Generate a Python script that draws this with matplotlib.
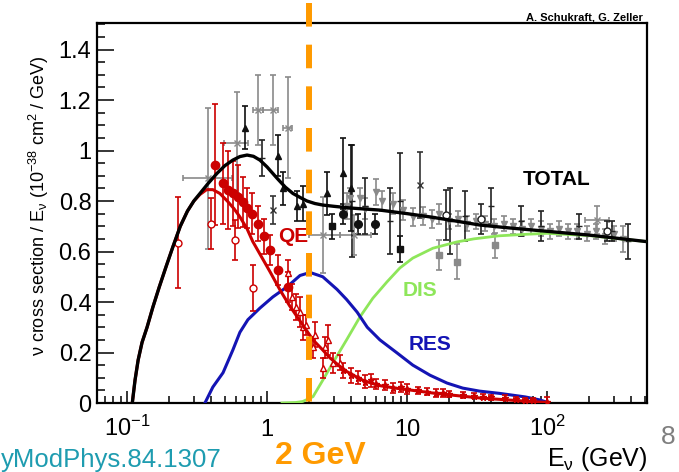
import numpy as np
import matplotlib
matplotlib.use("Agg")
import matplotlib.pyplot as plt
import matplotlib.transforms as mtransforms
from matplotlib.ticker import FixedLocator, FixedFormatter, LogLocator, MultipleLocator, NullFormatter

plt.rcParams['font.family'] = ['Liberation Sans', 'DejaVu Sans']
plt.rcParams['mathtext.default'] = 'regular'
plt.rcParams['lines.scale_dashes'] = False

# ---------------- model curves ----------------
total_E = [0.109, 0.114, 0.12, 0.128, 0.139, 0.153, 0.17, 0.19, 0.213, 0.24, 0.27, 0.30, 0.332, 0.38,
           0.44, 0.50, 0.57, 0.64, 0.72, 0.80, 0.89, 1.0, 1.18, 1.35, 1.53, 1.75, 1.93, 2.2, 2.5, 3.0,
           4.0, 6.4, 10, 14.6, 20, 33, 50, 100, 200, 500]
total_s = [0.0, 0.09, 0.17, 0.24, 0.30, 0.38, 0.46, 0.54, 0.62, 0.70, 0.76, 0.80, 0.83, 0.87,
           0.91, 0.94, 0.962, 0.976, 0.982, 0.977, 0.962, 0.935, 0.89, 0.855, 0.83, 0.812, 0.80, 0.79,
           0.784, 0.779, 0.772, 0.764, 0.75, 0.737, 0.725, 0.705, 0.695, 0.68, 0.665, 0.64]

qe_E = [0.109, 0.114, 0.12, 0.128, 0.139, 0.153, 0.17, 0.19, 0.213, 0.24, 0.27, 0.30, 0.332, 0.37,
        0.41, 0.46, 0.52, 0.58, 0.64, 0.72, 0.79, 0.9, 1.05, 1.24, 1.45, 1.72, 2.13, 2.5, 2.8, 3.2,
        3.7, 4.3, 4.85, 5.6, 6.5, 8.5, 11, 16, 22, 33, 50, 75, 100]
qe_s = [0.0, 0.09, 0.17, 0.24, 0.30, 0.38, 0.46, 0.54, 0.62, 0.70, 0.76, 0.80, 0.826, 0.845,
        0.845, 0.83, 0.80, 0.77, 0.737, 0.69, 0.64, 0.585, 0.52, 0.447, 0.385, 0.325, 0.25, 0.21,
        0.18, 0.152, 0.125, 0.105, 0.09, 0.078, 0.068, 0.058, 0.05, 0.038, 0.03, 0.02, 0.013, 0.006,
        0.002]

res_E = [0.36, 0.41, 0.485, 0.57, 0.64, 0.73, 0.89, 1.1, 1.39, 1.72, 2.03, 2.5, 3.16, 3.7, 4.4, 5.2,
         6.4, 8.5, 11, 14.6, 19.3, 25, 33, 46, 70, 89, 100]
res_s = [0.0, 0.063, 0.12, 0.21, 0.28, 0.33, 0.376, 0.42, 0.46, 0.505, 0.517, 0.50, 0.45, 0.41, 0.36,
         0.30, 0.25, 0.198, 0.15, 0.11, 0.079, 0.059, 0.047, 0.038, 0.024, 0.012, 0.003]

dis_E = [1.28, 1.6, 1.8, 2.13, 2.5, 2.96, 3.7, 4.6, 5.7, 7.2, 8.9, 11, 15.3, 22.7, 30, 45, 70, 100, 200,
         500]
dis_s = [0.0, 0.002, 0.006, 0.025, 0.09, 0.16, 0.25, 0.34, 0.415, 0.48, 0.535, 0.574, 0.613, 0.638,
         0.65, 0.662, 0.668, 0.672, 0.663, 0.64]

# ---------------- data points ----------------
mb_E = [0.425, 0.485, 0.53, 0.57, 0.62, 0.67, 0.72, 0.78, 0.86, 0.95, 1.05, 1.2, 1.41]
mb_s = [0.943, 0.87, 0.845, 0.83, 0.817, 0.797, 0.773, 0.75, 0.71, 0.66, 0.605, 0.527, 0.46]
mb_err = [0.24, 0.16, 0.155, 0.13, 0.125, 0.1, 0.08, 0.08, 0.07, 0.07, 0.06, 0.06, 0.06]

ro_E = [0.23, 0.40, 0.59, 0.79]
ro_s = [0.635, 0.71, 0.645, 0.455]
ro_err = [0.18, 0.1, 0.08, 0.09]

rt_E = [1.41, 1.5, 1.6, 1.72, 1.8, 1.9, 2.13, 2.2, 2.5, 2.6, 2.73, 2.96, 3.3]
rt_s = [0.515, 0.42, 0.38, 0.36, 0.30, 0.31, 0.22, 0.27, 0.14, 0.22, 0.25, 0.16, 0.16]
rt_err = [0.05, 0.05, 0.05, 0.06, 0.05, 0.04, 0.04, 0.05, 0.04, 0.04, 0.06, 0.04, 0.03]

rs_E = [3.5, 4.0, 4.5, 5.0, 5.5, 6.0, 7, 8, 9, 10, 12, 14, 16, 18, 20, 25, 30, 35, 40, 50, 60, 70, 80, 100]
rs_s = [0.13, 0.11, 0.10, 0.085, 0.09, 0.075, 0.07, 0.06, 0.065, 0.055, 0.05, 0.045, 0.04, 0.04, 0.035,
        0.03, 0.028, 0.025, 0.022, 0.02, 0.015, 0.012, 0.01, 0.005]
rs_err = [0.03, 0.03, 0.025, 0.025, 0.025, 0.02, 0.02, 0.02, 0.02, 0.02, 0.015, 0.015, 0.015, 0.015, 0.012,
          0.012, 0.01, 0.01, 0.01, 0.01, 0.008, 0.008, 0.008, 0.02]

bt_E = [0.70, 1.2, 1.3, 1.64, 1.8, 2.68, 3.5, 3.98]
bt_s = [1.09, 0.98, 0.85, 0.78, 0.79, 0.83, 0.91, 0.85]
bt_err = [0.085, 0.08, 0.065, 0.06, 0.07, 0.085, 0.14, 0.17]

bc_E = [3.5, 4.46, 5.9]
bc_s = [0.75, 0.71, 0.71]
bc_err = [0.04, 0.04, 0.04]

bo_E = [19, 34, 268]
bo_s = [0.745, 0.73, 0.68]
bo_err = [0.1, 0.06, 0.04]

bs_E = [2.9, 8.9]
bs_s = [0.70, 0.61]
bs_err = [0.05, 0.05]

gs_E = [17, 22.7, 42.5]
gs_s = [0.585, 0.56, 0.625]
gs_err = [0.06, 0.07, 0.05]

bx_E = [1.1, 12.4]
bx_s = [0.765, 0.863]
bx_err = [0.055, 0.13]

bb_E = [0.92, 4.05, 5.0, 7.5, 8.9, 20.4, 26, 40, 65, 90, 170, 290, 380]
bb_s = [0.97, 0.80, 0.78, 0.72, 0.80, 0.72, 0.74, 0.78, 0.72, 0.70, 0.70, 0.68, 0.64]
bb_err = [0.07, 0.22, 0.11, 0.13, 0.19, 0.13, 0.10, 0.07, 0.06, 0.06, 0.05, 0.04, 0.07]

gx_E = [0.38, 0.61, 0.86, 1.1, 1.41, 2.5, 4.2, 227]
gx_s = [0.89, 1.03, 1.16, 1.16, 1.09, 0.665, 0.665, 0.725]
gx_err = [0.28, 0.2, 0.14, 0.14, 0.2, 0.15, 0.08, 0.055]
gx_xlo = [0.13, 0.12, 0.06, 0.17, 0.1, 0.5, 0.9, 40]
gx_xhi = [0.18, 0.12, 0.07, 0.1, 0.1, 0.8, 1.3, 50]

gv_E = [3.7, 3.9, 4.6, 5.0, 6.0, 6.6, 7.9, 9.4, 11, 13, 15, 17, 20, 23, 27, 31, 36, 42, 49, 57, 66, 77,
        90, 105, 122, 142, 165, 192, 223, 260, 300, 350]
gv_s = [0.78, 0.81, 0.81, 0.77, 0.836, 0.80, 0.79, 0.765, 0.737, 0.74, 0.73, 0.75, 0.72, 0.73, 0.71, 0.72,
        0.71, 0.70, 0.71, 0.70, 0.69, 0.70, 0.69, 0.68, 0.69, 0.68, 0.68, 0.67, 0.68, 0.66, 0.67, 0.65]
gv_err = [0.05, 0.04, 0.04, 0.04, 0.05, 0.04, 0.04, 0.04, 0.035, 0.035, 0.035, 0.04, 0.03, 0.03, 0.03,
          0.03, 0.03, 0.03, 0.03, 0.03, 0.03, 0.03, 0.03, 0.03, 0.03, 0.03, 0.03, 0.03, 0.03, 0.03, 0.03, 0.05]

xtick_vals = [0.1, 1, 10, 100]
xtick_labels = ['$10^{-1}$', '1', '10', '$10^{2}$']
ytick_vals = [0, 0.2, 0.4, 0.6, 0.8, 1.0, 1.2, 1.4]
ytick_labels = ['0', '0.2', '0.4', '0.6', '0.8', '1', '1.2', '1.4']

RED = '#cc0000'
GRAY = '#8a8a8a'
BLUE = '#1414b4'
GREEN = '#8ee65a'
ORANGE = '#ff9a00'

fig = plt.figure(figsize=(6.79, 4.72), dpi=100)
ax = fig.add_axes([97 / 679, 69 / 472, 550 / 679, 380 / 472])
ax.set_xscale('log')
ax.set_xlim(0.061, 518)
ax.set_ylim(0, 1.505)

eb = dict(capsize=2, elinewidth=1.2, capthick=1.2, linestyle='none')
# gray data
ax.errorbar(gv_E, gv_s, yerr=gv_err, fmt='v', ms=4, color=GRAY, **eb)
ax.errorbar(gx_E, gx_s, yerr=gx_err, xerr=[gx_xlo, gx_xhi], fmt='x', ms=5, color=GRAY, **eb)
ax.errorbar(gs_E, gs_s, yerr=gs_err, fmt='s', ms=5, color=GRAY, **eb)
# black data
ax.errorbar(bb_E, bb_s, yerr=bb_err, fmt='_', ms=4, color='#222222', **eb)
ax.errorbar(bt_E, bt_s, yerr=bt_err, fmt='^', ms=5, color='#111111', **eb)
ax.errorbar(bc_E, bc_s, yerr=bc_err, fmt='o', ms=5.5, color='#111111', **eb)
ax.errorbar(bo_E, bo_s, yerr=bo_err, fmt='o', ms=5, mfc='white', color='#222222', **eb)
ax.errorbar(bs_E, bs_s, yerr=bs_err, fmt='s', ms=5, color='#111111', **eb)
ax.errorbar(bx_E, bx_s, yerr=bx_err, fmt='x', ms=5, color='#333333', **eb)

# model curves
ax.plot(dis_E, dis_s, color=GREEN, lw=2.0, zorder=3)
ax.plot(res_E, res_s, color=BLUE, lw=2.2, zorder=3)

# red data
ax.errorbar(rs_E, rs_s, yerr=rs_err, fmt='*', ms=5, color=RED, zorder=4, **eb)
ax.errorbar(rt_E, rt_s, yerr=rt_err, fmt='^', ms=5, mfc='white', color=RED, zorder=4, **eb)
ax.errorbar(ro_E, ro_s, yerr=ro_err, fmt='o', ms=5, mfc='white', color=RED, zorder=4, **eb)
ax.errorbar(mb_E, mb_s, yerr=mb_err, fmt='o', ms=6, color=RED, zorder=4, **eb)

ax.plot(qe_E, qe_s, color=RED, lw=2.2, zorder=5)
ax.plot(total_E, total_s, color='black', lw=2.4, zorder=6)

# ticks
ax.xaxis.set_major_locator(FixedLocator(xtick_vals))
ax.xaxis.set_major_formatter(FixedFormatter(xtick_labels))
ax.xaxis.set_minor_locator(LogLocator(base=10, subs=np.arange(2, 10), numticks=20))
ax.xaxis.set_minor_formatter(NullFormatter())
ax.yaxis.set_major_locator(FixedLocator(ytick_vals))
ax.yaxis.set_major_formatter(FixedFormatter(ytick_labels))
ax.yaxis.set_minor_locator(MultipleLocator(0.05))
ax.tick_params(which='both', direction='in', top=False, right=False, width=1.1, color='black')
ax.tick_params(axis='y', which='major', length=12, labelsize=17, pad=4)
ax.tick_params(axis='y', which='minor', length=6)
ax.tick_params(axis='x', which='major', length=9, labelsize=17, pad=24)
ax.tick_params(axis='x', which='minor', length=5)
for lab in ax.get_xticklabels():
    lab.set_va('baseline')
for sp in ax.spines.values():
    sp.set_linewidth(1.6)

# y label
ax.text(-0.105, 0.52, r'ν cross section / E$_{ν}$ (10$^{-38}$ cm$^{2}$ / GeV)', transform=ax.transAxes,
        rotation=90, ha='center', va='center', fontsize=13)

# in-plot labels
ax.text(0.836, 0.587, 'TOTAL', transform=ax.transAxes, ha='center', va='center', fontsize=15,
        fontweight='bold', color='black')
ax.text(0.356, 0.437, 'QE', transform=ax.transAxes, ha='center', va='center', fontsize=15,
        fontweight='bold', color=RED, zorder=7)
ax.text(0.587, 0.297, 'DIS', transform=ax.transAxes, ha='center', va='center', fontsize=15,
        fontweight='bold', color=GREEN)
ax.text(0.605, 0.153, 'RES', transform=ax.transAxes, ha='center', va='center', fontsize=15,
        fontweight='bold', color=BLUE)

# 2 GeV dashed line
trans = mtransforms.blended_transform_factory(ax.transData, ax.transAxes)
ax.plot([2, 2], [(403 - 3) / 380, 0], transform=trans, color=ORANGE, lw=4.3, dashes=(17, 13),
        clip_on=False, zorder=10, solid_capstyle='butt', dash_capstyle='butt')

# figure texts
fig.text(643 / 679, (472 - 20) / 472, 'A. Schukraft, G. Zeller', ha='right', va='baseline', fontsize=8,
         fontweight='bold')
fig.text(320 / 679, (472 - 464) / 472, '2 GeV', ha='center', va='baseline', fontsize=23,
         fontweight='bold', color=ORANGE)
fig.text(648 / 679, (472 - 466) / 472, r'E$_{ν}$ (GeV)', ha='right', va='baseline', fontsize=18)
fig.text(668 / 679, (472 - 437) / 472, '8', ha='center', va='center', fontsize=19, color='#7f7f7f')
fig.text(1 / 679, (472 - 467) / 472, 'yModPhys.84.1307', ha='left', va='baseline', fontsize=18.5,
         color='#1e9cb0')

fig.savefig('out.png', dpi=100)
